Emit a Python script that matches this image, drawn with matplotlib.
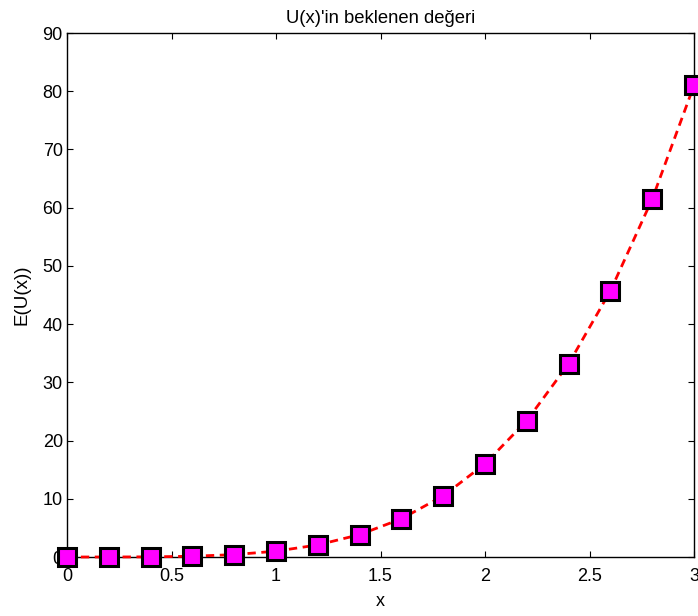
import matplotlib
matplotlib.use("Agg")
import matplotlib.pyplot as plt

plt.rcParams['font.family'] = ['Liberation Sans', 'DejaVu Sans']

x_vals = [0.0, 0.2, 0.4, 0.6, 0.8, 1.0, 1.2, 1.4, 1.6, 1.8, 2.0, 2.2, 2.4, 2.6, 2.8, 3.0]
expected_u = [0.0, 0.0016, 0.0256, 0.1296, 0.4096, 1.0, 2.0736, 3.8416, 6.5536,
              10.4976, 16.0, 23.4256, 33.1776, 45.6976, 61.4656, 81.0]

x_ticks = [0, 0.5, 1, 1.5, 2, 2.5, 3]
x_tick_labels = ['0', '0.5', '1', '1.5', '2', '2.5', '3']
y_ticks = [0, 10, 20, 30, 40, 50, 60, 70, 80, 90]

fig = plt.figure(figsize=(6.98, 6.16), dpi=100)
ax = fig.add_axes([67 / 698, (616 - 557) / 616, (694 - 67) / 698, (557 - 33) / 616])

ax.plot(x_vals, expected_u, linestyle='--', color='red', linewidth=2,
        marker='s', markersize=13, markerfacecolor='magenta',
        markeredgecolor='black', markeredgewidth=2.2, clip_on=False, zorder=3,
        dashes=(3, 2))

ax.set_xlim(0, 3)
ax.set_ylim(0, 90)
ax.set_xticks(x_ticks)
ax.set_xticklabels(x_tick_labels)
ax.set_yticks(y_ticks)
ax.tick_params(direction='in', length=4, width=0.8, top=True, right=True,
               labelsize=13)
ax.tick_params(axis='x', pad=8)
ax.tick_params(axis='y', pad=3)
for s in ax.spines.values():
    s.set_linewidth(1.0)

ax.set_title("U(x)'in beklenen değeri", fontsize=13.3, pad=7)
ax.set_xlabel('x', fontsize=13, labelpad=6)
ax.set_ylabel('E(U(x))', fontsize=13.5, labelpad=9)

fig.savefig('out.png', dpi=100)
